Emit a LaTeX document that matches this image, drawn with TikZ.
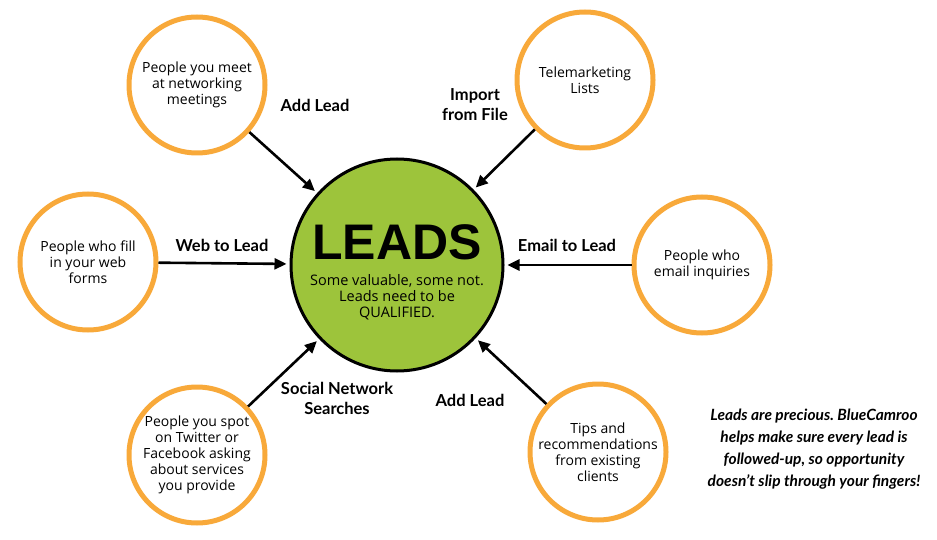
\documentclass[tikz,border=0pt]{standalone}
\usepackage{fontspec}
\setmainfont{Lato}
\newfontfamily\handfont{Open Sans}
\newfontfamily\bigfont{Liberation Sans}
\usetikzlibrary{arrows.meta}
\definecolor{leadgreen}{HTML}{9DC43B}
\definecolor{srcorange}{HTML}{F8A93A}
\frenchspacing
\begin{document}
\begin{tikzpicture}[x=1pt,y=-1pt,
	source/.style={circle,draw=srcorange,line width=5pt,minimum size=136pt,inner sep=0pt,
		align=center,font=\handfont\fontsize{14}{16}\selectfont},
	way/.style={font=\bfseries\fontsize{16.5}{20}\selectfont,align=center},
	feed/.style={line width=2.6pt,-{Triangle[length=12pt,width=11pt]},shorten >=3pt}]
	\useasboundingbox (0,0) rectangle (937,540);
	% the leads circle
	\node[circle,fill=leadgreen,draw=black,line width=3pt,minimum size=212pt] (leads) at (397,265) {};
	\node[font=\bigfont\bfseries\fontsize{50}{50}\selectfont] (title) at (397,242) {LEADS};
	\node[font=\handfont\fontsize{14.5}{16}\selectfont,align=center] (sub) at (397,297)
		{Some valuable, some not.\\Leads need to be\\QUALIFIED.};
	% where leads come from
	\node[source] (meet) at (197,85) {People you meet\\at networking\\meetings};
	\node[source] (tele) at (585,80) {Telemarketing\\Lists};
	\node[source] (web) at (88,262) {People who fill\\in your web\\forms};
	\node[source] (mail) at (702,265) {People who\\email inquiries};
	\node[source] (spot) at (197,455) {People you spot\\on Twitter or\\Facebook asking\\about services\\you provide};
	\node[source] (tips) at (598,452) {Tips and\\recommendations\\from existing\\clients};
	\draw[feed] (meet) -- (leads);
	\draw[feed] (tele) -- (leads);
	\draw[feed] (web) -- (leads);
	\draw[feed] (mail) -- (leads);
	\draw[feed] (spot) -- (leads);
	\draw[feed] (tips) -- (leads);
	% labels
	\node[way] (l1) at (315,105) {Add Lead};
	\node[way] (l2) at (475,105) {Import\\from File};
	\node[way] (l3) at (222,245) {Web to Lead};
	\node[way] (l4) at (567,245) {Email to Lead};
	\node[way] (l5) at (337,398) {Social Network\\Searches};
	\node[way] (l6) at (470,400) {Add Lead};
	\node[font=\bfseries\itshape\fontsize{15.5}{22}\selectfont,align=center] (note) at (814,449)
		{Leads are precious. BlueCamroo\\helps make sure every lead is\\followed-up, so opportunity\\doesn't slip through your fingers!};
\end{tikzpicture}
\end{document}
